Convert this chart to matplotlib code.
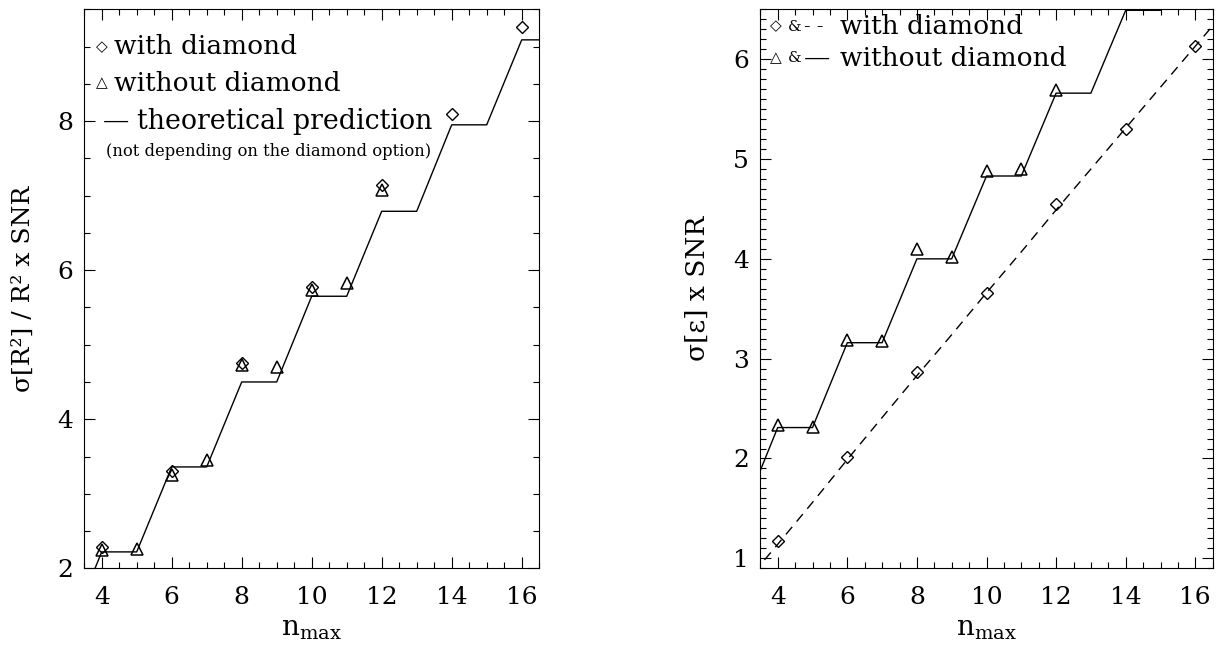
import matplotlib
matplotlib.use('Agg')
import matplotlib.pyplot as plt
from matplotlib.ticker import MultipleLocator

# ---------------- data ----------------
n_theory = [3, 4, 5, 6, 7, 8, 9, 10, 11, 12, 13, 14, 15, 16, 17]
n_even = [4, 6, 8, 10, 12, 14, 16]
n_tri = [4, 5, 6, 7, 8, 9, 10, 11, 12]

# left panel: sigma[R^2]/R^2 x SNR
theory_R2 = [1.06, 2.22, 2.22, 3.36, 3.36, 4.50, 4.50, 5.65, 5.65,
             6.79, 6.79, 7.95, 7.95, 9.09, 9.09]
diam_R2 = [2.28, 3.30, 4.76, 5.78, 7.14, 8.10, 9.26]
tri_R2 = [2.24, 2.26, 3.25, 3.45, 4.73, 4.70, 5.74, 5.83, 7.07]

# right panel: sigma[eps] x SNR
theory_eps_nodiam = [1.45, 2.31, 2.31, 3.16, 3.16, 4.00, 4.00, 4.83, 4.83,
                     5.66, 5.66, 6.49, 6.49, 7.33, 7.33]
theory_eps_diam = [0.73, 1.14, 1.56, 1.99, 2.41, 2.83, 3.24, 3.66, 4.07,
                   4.49, 4.90, 5.31, 5.72, 6.13, 6.54]
diam_eps = [1.17, 2.02, 2.87, 3.66, 4.55, 5.30, 6.13]
tri_eps = [2.34, 2.32, 3.19, 3.18, 4.10, 4.02, 4.88, 4.90, 5.69]

x_ticks = [4, 6, 8, 10, 12, 14, 16]
y1_ticks = [2, 4, 6, 8]
y2_ticks = [1, 2, 3, 4, 5, 6]

# ---------------- style ----------------
plt.rcParams['font.family'] = ['DejaVu Serif', 'DejaVu Sans']
plt.rcParams['mathtext.fontset'] = 'dejavuserif'

W, H = 1222, 652
fig = plt.figure(figsize=(W / 100, H / 100), dpi=100)
ax1 = fig.add_axes([84.2 / W, 83.7 / H, 455 / W, 559 / H])
ax2 = fig.add_axes([760.3 / W, 83.7 / H, 452.4 / W, 559 / H])

tick_fs = 18
lw = 1.0

for ax in (ax1, ax2):
    ax.set_xlim(3.5, 16.5)
    ax.set_xticks(x_ticks)
    ax.xaxis.set_minor_locator(MultipleLocator(0.5))
    ax.tick_params(which='both', direction='in', top=True, right=True,
                   width=0.8, labelsize=tick_fs)
    ax.tick_params(which='major', length=8)
    ax.tick_params(which='minor', length=4)
    ax.tick_params(axis='x', which='major', pad=13)
    ax.tick_params(axis='y', which='major', pad=8)
    for s in ax.spines.values():
        s.set_linewidth(0.8)
    ax.set_xlabel(r'n$_{\mathrm{max}}$', fontsize=20, labelpad=4)

# left panel
ax1.set_ylim(2, 9.5)
ax1.set_yticks(y1_ticks)
ax1.yaxis.set_minor_locator(MultipleLocator(0.5))
ax1.plot(n_theory, theory_R2, color='k', lw=lw)
ax1.plot(n_even, diam_R2, linestyle='none', marker='D', ms=6.5, mfc='none',
         mec='k', mew=1.0)
ax1.plot(n_tri, tri_R2, linestyle='none', marker='^', ms=8.5, mfc='none',
         mec='k', mew=1.1)
ax1.set_ylabel('σ[R²] / R² x SNR', fontsize=18)
ax1.yaxis.set_label_coords(-0.109, 0.5)

leg_fs = 19
ax1.text(0.0387, 0.933, '◇', fontsize=11, ha='center', va='center',
         transform=ax1.transAxes)
ax1.text(0.066, 0.933, 'with diamond', fontsize=leg_fs, ha='left',
         va='center', transform=ax1.transAxes)
ax1.text(0.0387, 0.868, '△', fontsize=11, ha='center', va='center',
         transform=ax1.transAxes)
ax1.text(0.066, 0.868, 'without diamond', fontsize=leg_fs, ha='left',
         va='center', transform=ax1.transAxes)
ax1.text(0.042, 0.799, '—', fontsize=leg_fs, ha='left', va='center',
         transform=ax1.transAxes)
ax1.text(0.117, 0.799, 'theoretical prediction', fontsize=19.3,
         ha='left', va='center', transform=ax1.transAxes)
ax1.text(0.0487, 0.745, '(not depending on the diamond option)',
         fontsize=11.8, ha='left', va='center', transform=ax1.transAxes)

# right panel
ax2.set_ylim(0.9, 6.5)
ax2.set_yticks(y2_ticks)
ax2.yaxis.set_minor_locator(MultipleLocator(0.1))
ax2.plot(n_theory, theory_eps_nodiam, color='k', lw=lw)
ax2.plot(n_theory, theory_eps_diam, color='k', lw=lw, linestyle=(0, (7, 5)))
ax2.plot(n_even, diam_eps, linestyle='none', marker='D', ms=6.5, mfc='none',
         mec='k', mew=1.0)
ax2.plot(n_tri, tri_eps, linestyle='none', marker='^', ms=8.5, mfc='none',
         mec='k', mew=1.1)
ax2.set_ylabel('σ[ε] x SNR', fontsize=19)
ax2.yaxis.set_label_coords(-0.111, 0.5)

ax2.text(0.035, 0.969, '◇', fontsize=11, ha='center', va='center',
         transform=ax2.transAxes)
ax2.text(0.062, 0.969, '&', fontsize=11, ha='left', va='center',
         transform=ax2.transAxes)
ax2.text(0.097, 0.969, '- -', fontsize=14, ha='left', va='center',
         transform=ax2.transAxes)
ax2.text(0.177, 0.969, 'with diamond', fontsize=leg_fs, ha='left',
         va='center', transform=ax2.transAxes)
ax2.text(0.035, 0.912, '△', fontsize=11, ha='center', va='center',
         transform=ax2.transAxes)
ax2.text(0.062, 0.912, '&', fontsize=11, ha='left', va='center',
         transform=ax2.transAxes)
ax2.text(0.097, 0.912, '—', fontsize=leg_fs, ha='left', va='center',
         transform=ax2.transAxes)
ax2.text(0.177, 0.912, 'without diamond', fontsize=leg_fs, ha='left',
         va='center', transform=ax2.transAxes)

fig.savefig('out.png', dpi=100)
